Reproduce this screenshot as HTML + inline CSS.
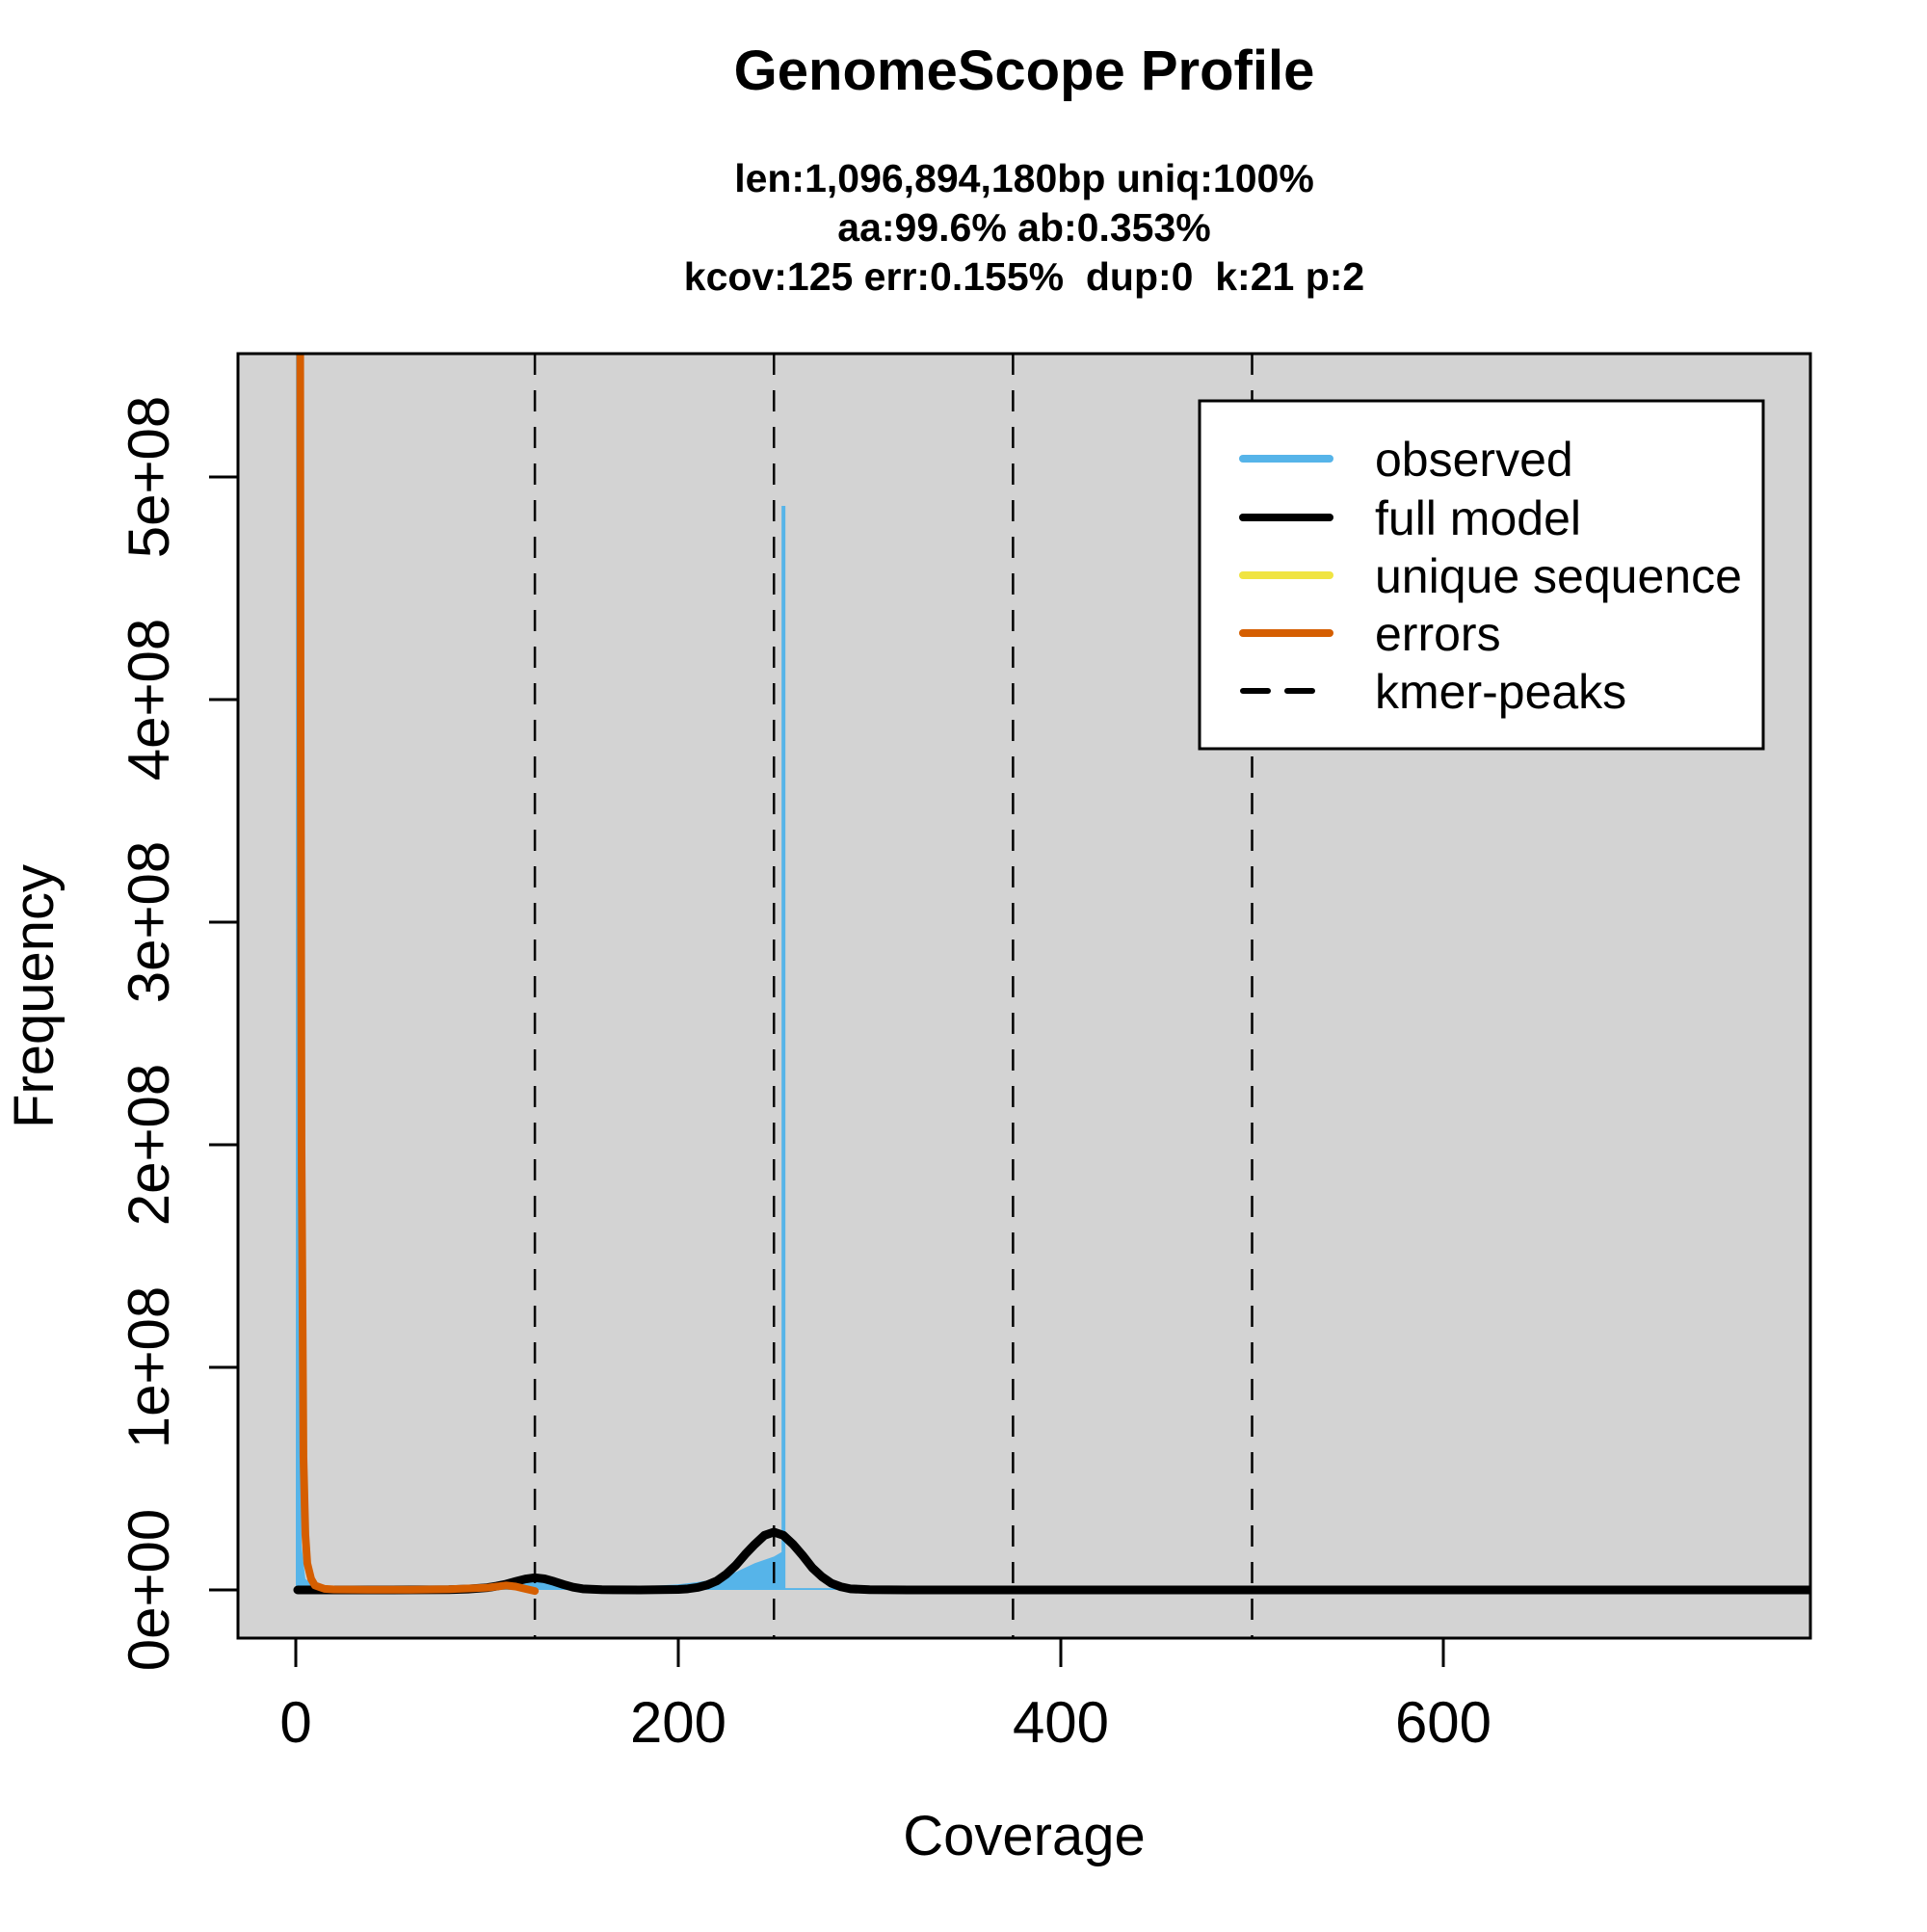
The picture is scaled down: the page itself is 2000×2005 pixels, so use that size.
<!DOCTYPE html>
<html><head><meta charset="utf-8"><style>
html,body{margin:0;padding:0;background:#fff}
svg text{font-family:"Liberation Sans",sans-serif}
</style></head><body>
<svg id="chart" width="2000" height="2000" viewBox="0 0 2000 2000" xmlns="http://www.w3.org/2000/svg">
<rect width="2000" height="2000" fill="#fff"/>
<text x="1063" y="93" text-anchor="middle" font-size="58" font-weight="bold">GenomeScope Profile</text>
<text x="1063" y="199" text-anchor="middle" font-size="41" font-weight="bold">len:1,096,894,180bp uniq:100%</text>
<text x="1063" y="250" text-anchor="middle" font-size="41" font-weight="bold">aa:99.6% ab:0.353%</text>
<text x="1063" y="301" text-anchor="middle" font-size="41" font-weight="bold" xml:space="preserve">kcov:125 err:0.155%  dup:0  k:21 p:2</text>
<defs><clipPath id="pc"><rect x="247" y="367" width="1632" height="1333"/></clipPath></defs>
<rect x="247" y="367" width="1632" height="1333" fill="#d3d3d3"/>
<g id="marks" clip-path="url(#pc)"></g>
<rect x="247" y="367" width="1632" height="1333" fill="none" stroke="#000" stroke-width="3"/>
<g id="axes"></g>
<text x="1063" y="1925" text-anchor="middle" font-size="58">Coverage</text>
<text transform="translate(55,1034) rotate(-90)" text-anchor="middle" font-size="58">Frequency</text>
<g>
<rect x="1245" y="416" width="585" height="361" fill="#fff" stroke="#000" stroke-width="3"/>
<line x1="1290" y1="476" x2="1380" y2="476" stroke="#56b4e9" stroke-width="8" stroke-linecap="round"/>
<text x="1427" y="494" font-size="50">observed</text>
<line x1="1290" y1="537" x2="1380" y2="537" stroke="#000" stroke-width="8" stroke-linecap="round"/>
<text x="1427" y="555" font-size="50">full model</text>
<line x1="1290" y1="597" x2="1380" y2="597" stroke="#f0e442" stroke-width="8" stroke-linecap="round"/>
<text x="1427" y="615" font-size="50">unique sequence</text>
<line x1="1290" y1="657" x2="1380" y2="657" stroke="#d55e00" stroke-width="8" stroke-linecap="round"/>
<text x="1427" y="675" font-size="50">errors</text>
<line x1="1290" y1="717" x2="1376" y2="717" stroke="#000" stroke-width="6" stroke-dasharray="26,20" stroke-linecap="round"/>
<text x="1427" y="735" font-size="50">kmer-peaks</text>
</g>
</svg>
<script>
const xTicks=[0,200,400,600];
const yTicks=[0,1e8,2e8,3e8,4e8,5e8];
const yTickLabels=["0e+00","1e+08","2e+08","3e+08","4e+08","5e+08"];
const peaks=[125,250,375,500];
const obsX=[0,1,2,3,5,8,10,15,20,40,60,80,100,110,120,125,130,140,150,170,190,200,210,220,230,240,250,254,254,256,256,270,290,291,300,400,600,792];
const obsY=[0,6e9,2e8,2e7,5e6,3e6,2e6,1.5e6,1.2e6,1e6,1e6,1.2e6,2e6,3e6,5e6,5.5e6,5e6,3e6,2e6,1.5e6,2e6,2.5e6,3.5e6,5e6,8e6,1.2e7,1.5e7,1.7e7,4.87e8,4.87e8,8e5,8e5,8e5,0,0,0,0,0];
const modX=[1,50,80,90,100,105,110,115,120,125,130,135,140,145,150,160,180,200,205,210,215,220,225,230,235,240,245,250,255,260,265,270,275,280,285,290,300,320,400,792];
const modY=[0,0,1e5,4e5,1e6,1.7e6,2.6e6,3.8e6,4.9e6,5.5e6,5e6,3.8e6,2.4e6,1.2e6,5e5,1e5,0,2e5,5e5,1.1e6,2.2e6,4e6,7e6,1.1e7,1.6e7,2.05e7,2.45e7,2.6e7,2.45e7,2.05e7,1.55e7,1e7,6e6,3e6,1.4e6,5e5,1e5,0,0,0];
const errX=[1,1.5,2,2.5,3,4,5,6,8,10,15,20,40,60,80,100,110,115,120,125];
const errY=[6e9,1.5e9,8e8,4e8,2e8,6e7,2.5e7,1.2e7,5e6,2e6,5e5,2e5,1e5,1e5,3e5,1e6,2e6,1.5e6,5e5,-5e5];

const NS="http://www.w3.org/2000/svg";
const xs=v=>307+1.985*v;
const ys=v=>1650-v*2.31e-6;
const marks=document.getElementById('marks'), axes=document.getElementById('axes');
function mk(tag,attrs,parent){const e=document.createElementNS(NS,tag);for(const k in attrs)e.setAttribute(k,attrs[k]);parent.appendChild(e);return e;}

let d="M"+xs(obsX[0])+","+ys(0);
obsX.forEach((x,i)=>{d+=" L"+xs(x)+","+ys(obsY[i]);});
d+=" L"+xs(obsX[obsX.length-1])+","+ys(0)+" Z";
const obs=mk('path',{d:d,fill:'#56b4e9',stroke:'none'},marks);



peaks.forEach(p=>{
 const l=mk('line',{x1:xs(p),x2:xs(p),y1:367,y2:1700,stroke:'#000','stroke-width':2.5,'stroke-dasharray':'22,16'},marks);
 
 
});

function line(X,Y){return X.map((x,i)=>(i?'L':'M')+xs(x)+','+ys(Y[i])).join(' ');}
const mod=mk('path',{d:line(modX,modY),fill:'none',stroke:'#000','stroke-width':9,'stroke-linejoin':'round','stroke-linecap':'round'},marks);


const err=mk('path',{d:line(errX,errY),fill:'none',stroke:'#d55e00','stroke-width':8,'stroke-linejoin':'round','stroke-linecap':'round'},marks);



mk('line',{x1:xs(0),x2:xs(600),y1:1700,y2:1700,stroke:'#000','stroke-width':3},axes);
xTicks.forEach(t=>{
 const tk=mk('line',{x1:xs(t),x2:xs(t),y1:1700,y2:1730,stroke:'#000','stroke-width':3},axes);
 
 
 const tx=mk('text',{x:xs(t),y:1808,'text-anchor':'middle','font-size':60},axes);
 tx.textContent=t;
 
 
});
mk('line',{x1:247,x2:247,y1:ys(0),y2:ys(5e8),stroke:'#000','stroke-width':3},axes);
yTicks.forEach((t,i)=>{
 const tk=mk('line',{x1:217,x2:247,y1:ys(t),y2:ys(t),stroke:'#000','stroke-width':3},axes);
 
 
 const tx=mk('text',{transform:'translate(175,'+ys(t)+') rotate(-90)','text-anchor':'middle','font-size':60},axes);
 tx.textContent=yTickLabels[i];
 
 
});
</script>
</body></html>
